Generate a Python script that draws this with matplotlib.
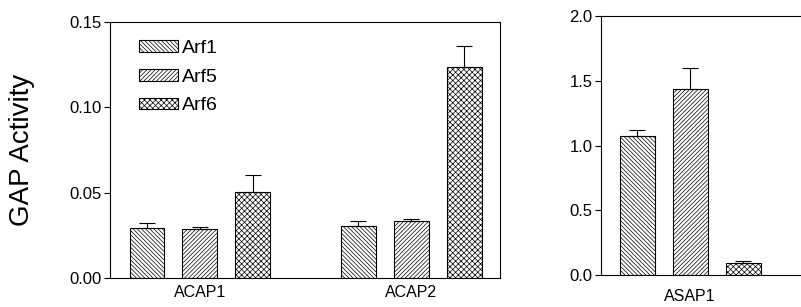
import numpy as np
import matplotlib
matplotlib.use("Agg")
import matplotlib.pyplot as plt

plt.rcParams['font.family'] = ['Liberation Sans', 'DejaVu Sans']
plt.rcParams['hatch.linewidth'] = 0.5

# data
series = ["Arf1", "Arf5", "Arf6"]
hatches = ["\\" * 8, "/" * 8, "x" * 6]

acap_groups = ["ACAP1", "ACAP2"]
acap_vals = [[0.0293, 0.0305],   # Arf1
             [0.0287, 0.0334],   # Arf5
             [0.0504, 0.1236]]   # Arf6
acap_err = [[0.0029, 0.0029],
            [0.0013, 0.0012],
            [0.0100, 0.0124]]

asap_group = ["ASAP1"]
asap_vals = [1.073, 1.436, 0.093]
asap_err = [0.047, 0.164, 0.015]

fig = plt.figure(figsize=(8.01, 3.07), dpi=100)
ax1 = fig.add_axes([110 / 801, 29 / 307, 390 / 801, 256 / 307])
ax2 = fig.add_axes([601 / 801, 32 / 307, 200 / 801, 259 / 307])

w = 0.66
centers = np.array([0, 4])
for i, name in enumerate(series):
    x = centers + (i - 1)
    ax1.bar(x, acap_vals[i], w, color="white", edgecolor="black", linewidth=0.8,
            hatch=hatches[i], label=name)
    ax1.errorbar(x, acap_vals[i], yerr=[np.zeros(2), acap_err[i]], fmt="none",
                 ecolor="black", elinewidth=0.8, capsize=6, capthick=0.8)

ax1.set_xlim(-1.7, 5.68)
ax1.set_ylim(0, 0.15)
ax1.set_yticks([0, 0.05, 0.10, 0.15])
ax1.set_yticklabels(["0.00", "0.05", "0.10", "0.15"])
ax1.set_xticks(centers)
ax1.set_xticklabels(acap_groups)
ax1.set_ylabel("GAP Activity", fontsize=20, labelpad=25)
ax1.legend(loc="upper left", bbox_to_anchor=(0.045, 0.975), frameon=False,
           fontsize=14, handlelength=2.0, handleheight=0.55, handletextpad=0.2,
           labelspacing=0.6, borderaxespad=0.2)

x2 = np.arange(3) - 1
for i in range(3):
    ax2.bar(x2[i], asap_vals[i], w, color="white", edgecolor="black", linewidth=0.8,
            hatch=hatches[i])
    ax2.errorbar(x2[i], asap_vals[i], yerr=[[0], [asap_err[i]]], fmt="none",
                 ecolor="black", elinewidth=0.8, capsize=6, capthick=0.8)
ax2.set_xlim(-1.68, 2.09)
ax2.set_ylim(0, 2.0)
ax2.set_yticks([0, 0.5, 1.0, 1.5, 2.0])
ax2.set_xticks([0])
ax2.set_xticklabels(asap_group)
ax2.spines["right"].set_visible(False)

for ax in (ax1, ax2):
    ax.tick_params(axis="y", direction="out", length=4, width=0.8, labelsize=12, pad=2)
    ax.tick_params(axis="x", length=0, labelsize=11.5, pad=5)
    for s in ax.spines.values():
        s.set_linewidth(0.8)
ax2.tick_params(axis="x", pad=10)

fig.savefig("out.png", dpi=100)
